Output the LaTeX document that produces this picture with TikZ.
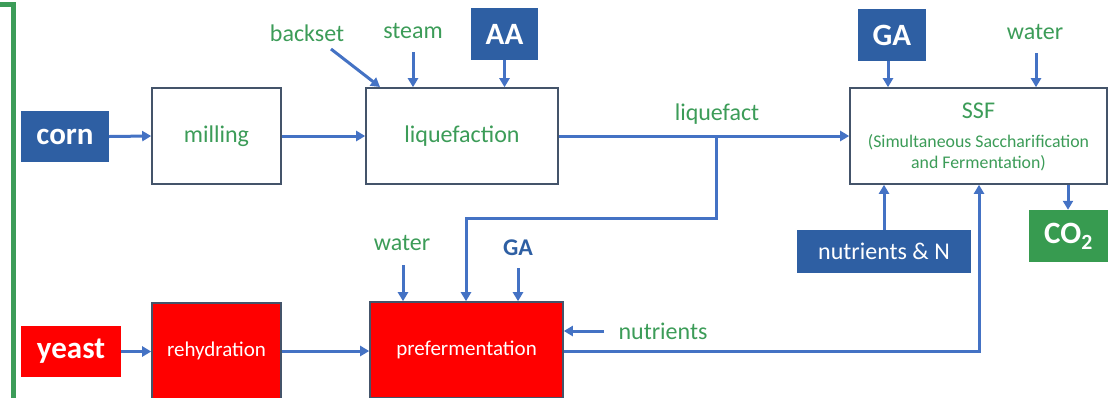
\documentclass[tikz,border=0pt]{standalone}
\usepackage{fontspec}
\setmainfont{Carlito}
\usetikzlibrary{arrows.meta}
\definecolor{arrblue}{HTML}{4472C4}
\definecolor{boxblue}{HTML}{2E5FA3}
\definecolor{txtgreen}{HTML}{3C9C58}
\definecolor{boxgreen}{HTML}{379B50}
\definecolor{bord}{HTML}{44546A}
\begin{document}
\begin{tikzpicture}[x=1pt,y=-1pt,
  flow/.style={draw=arrblue,line width=3pt,-{Triangle[length=9pt,width=10pt]}},
  proc/.style={draw=bord,line width=1.6pt,fill=white,inner sep=0pt,text=txtgreen,font=\fontsize{24}{28}\selectfont},
  redproc/.style={draw=bord,line width=1.6pt,fill=red,inner sep=0pt,text=white,font=\fontsize{21}{25}\selectfont},
  tag/.style={inner sep=0pt,text=white,font=\bfseries\fontsize{31}{35}\selectfont},
  lbl/.style={inner sep=1pt,text=txtgreen,font=\fontsize{24}{28}\selectfont}]
\useasboundingbox (0,0) rectangle (1115,397);
% bracket
\draw[txtgreen,line width=5pt] (0,4.5) -- (13.5,4.5) -- (13.5,400);
% top row
\node[tag,fill=boxblue,minimum width=88pt,minimum height=51pt] (corn) at (65,136.5) {corn};
\node[proc,minimum width=129pt,minimum height=96pt] (mill) at (216.5,136) {milling};
\node[proc,minimum width=192pt,minimum height=96pt] (liq) at (462,136) {liquefaction};
\node[proc,minimum width=257pt,minimum height=96pt] (ssf) at (978.5,136) {};
\node[anchor=base,inner sep=0pt,text=txtgreen,font=\fontsize{24}{28}\selectfont] (ssft) at (978.5,118) {SSF};
\node[anchor=base,inner sep=0pt,text=txtgreen,font=\fontsize{17.8}{21}\selectfont] (ssf2) at (978.5,147) {(Simultaneous Saccharification};
\node[anchor=base,inner sep=0pt,text=txtgreen,font=\fontsize{17.8}{21}\selectfont] (ssf3) at (978.5,168) {and Fermentation)};
\node[tag,fill=boxblue,minimum width=67pt,minimum height=52pt] (aa) at (504.5,34) {AA};
\node[tag,fill=boxblue,minimum width=68pt,minimum height=52pt] (ga1) at (892,35) {GA};
\node[tag,fill=boxgreen,minimum width=79pt,minimum height=52pt] (co2) at (1068.5,236) {CO$_{\mathbf 2}$};
\node[inner sep=0pt,fill=boxblue,text=white,font=\fontsize{24}{28}\selectfont,minimum width=174pt,minimum height=43pt] (nutn) at (884,251.5) {nutrients \& N};
\node[lbl] (backset) at (307,33) {backset};
\node[lbl] (steam) at (413,31) {steam};
\node[lbl] (water1) at (1035,32) {water};
\node[lbl] (liqt) at (717,114) {liquefact};
% bottom row
\node[tag,fill=red,minimum width=100pt,minimum height=51pt] (yeast) at (71,351.5) {yeast};
\node[redproc,minimum width=129pt,minimum height=96pt] (rehy) at (216.5,351) {rehydration};
\node[redproc,minimum width=193pt,minimum height=96pt] (pref) at (466.5,350) {prefermentation};
\node[lbl] (water2) at (402,243) {water};
\node[inner sep=1pt,text=boxblue,font=\bfseries\fontsize{24}{28}\selectfont] (ga2) at (518,248) {GA};
\node[lbl] (nutr) at (663,331) {nutrients};
% coordinates
\coordinate (bs0) at (331,49);
\coordinate (bs1) at (380,87);
\coordinate (st0) at (413,52);
\coordinate (wt0) at (1036,53);
\coordinate (br) at (716,136);
\coordinate (w20) at (403,265);
\coordinate (g20) at (518,268);
\coordinate (nu0) at (604,331);
% connectors
\draw[flow] (corn.east) -- (mill.west);
\draw[flow] (mill.east) -- (liq.west);
\draw[flow] (bs0) -- (bs1);
\draw[flow] (st0) -- (st0 |- liq.north);
\draw[flow] (aa.south) -- (aa.south |- liq.north);
\draw[flow] (liq.east) -- (ssf.west);
\draw[flow] (br) -- (716,218) -- (466,218) -- (466,0 |- pref.north);
\draw[flow] (888,0 |- ga1.south) -- (888,0 |- ssf.north);
\draw[flow] (wt0) -- (wt0 |- ssf.north);
\draw[flow] (nutn.north) -- (nutn.north |- ssf.south);
\draw[flow] (1068,0 |- ssf.south) -- (1068,0 |- co2.north);
\draw[flow] (pref.east |- 0,351) -- (979,351) -- (979,0 |- ssf.south);
\draw[flow] (w20) -- (w20 |- pref.north);
\draw[flow] (g20) -- (g20 |- pref.north);
\draw[flow] (nu0) -- (nu0 -| pref.east);
\draw[flow] (yeast.east) -- (yeast.east -| rehy.west);
\draw[flow] (rehy.east) -- (rehy.east -| pref.west);
\end{tikzpicture}
\end{document}
